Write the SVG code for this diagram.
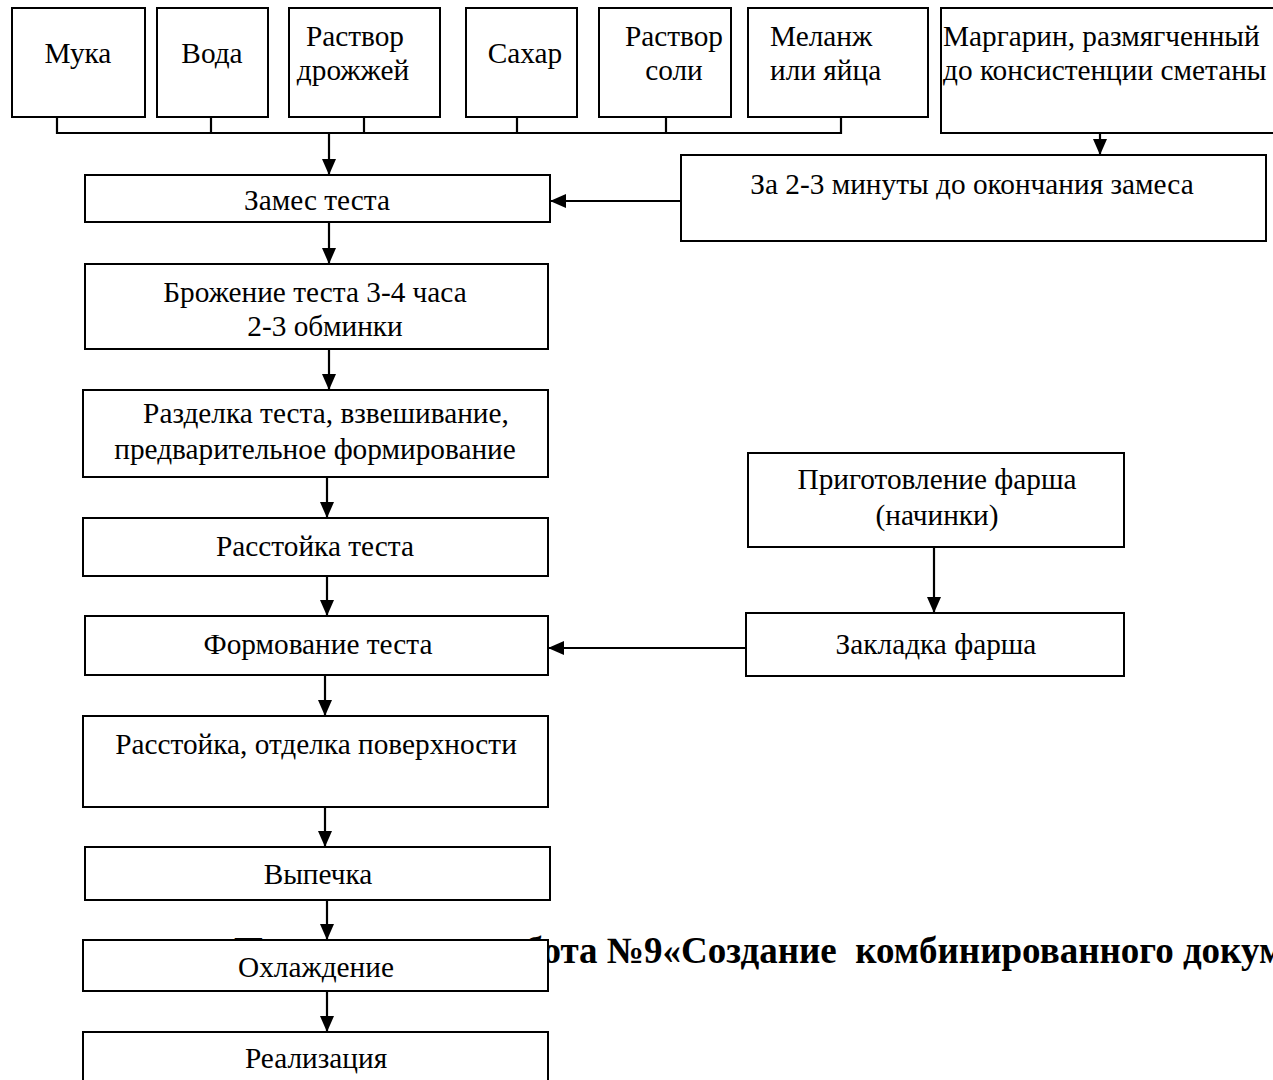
<svg xmlns="http://www.w3.org/2000/svg" width="1273" height="1080" viewBox="0 0 1273 1080">
<style>
.box{fill:#fff;stroke:#000;stroke-width:2}
.t{font-family:"Liberation Serif","Times New Roman",serif;font-size:29.3px;fill:#000}
.m{text-anchor:middle}
.ln{fill:none;stroke:#000;stroke-width:2.2}
.ttl{font-family:"Liberation Serif","Times New Roman",serif;font-size:37px;font-weight:bold;fill:#000}
</style>
<defs>
<marker id="ah" markerWidth="16" markerHeight="14" refX="16" refY="7" orient="auto" markerUnits="userSpaceOnUse">
<path d="M0,0 L16,7 L0,14 Z" fill="#000"/>
</marker>
</defs>
<rect width="1273" height="1080" fill="#fff"/>
<text id="title" class="ttl" x="234" y="963" xml:space="preserve">Практическая работа №9«Создание  комбинированного документа»</text>
<g id="connectors">
<path class="ln" d="M57,117 V133 H841 V117 M211,117 V133 M364,117 V133 M517,117 V133 M666,117 V133"/>
<line class="ln" x1="329" y1="133" x2="329" y2="175" marker-end="url(#ah)"/>
<line class="ln" x1="1100" y1="133" x2="1100" y2="155" marker-end="url(#ah)"/>
<line class="ln" x1="681" y1="201" x2="550" y2="201" marker-end="url(#ah)"/>
<line class="ln" x1="329" y1="222" x2="329" y2="264" marker-end="url(#ah)"/>
<line class="ln" x1="329" y1="349" x2="329" y2="390" marker-end="url(#ah)"/>
<line class="ln" x1="327" y1="477" x2="327" y2="518" marker-end="url(#ah)"/>
<line class="ln" x1="327" y1="576" x2="327" y2="616" marker-end="url(#ah)"/>
<line class="ln" x1="934" y1="547" x2="934" y2="613" marker-end="url(#ah)"/>
<line class="ln" x1="746" y1="648" x2="548" y2="648" marker-end="url(#ah)"/>
<line class="ln" x1="325" y1="675" x2="325" y2="716" marker-end="url(#ah)"/>
<line class="ln" x1="325" y1="807" x2="325" y2="847" marker-end="url(#ah)"/>
<line class="ln" x1="327" y1="900" x2="327" y2="940" marker-end="url(#ah)"/>
<line class="ln" x1="327" y1="991" x2="327" y2="1032" marker-end="url(#ah)"/>
</g>
<g id="muka"><rect class="box" x="12" y="8" width="133" height="109"/><text class="t m" x="78" y="63">Мука</text></g>
<g id="voda"><rect class="box" x="157" y="8" width="111" height="109"/><text class="t m" x="212" y="63">Вода</text></g>
<g id="drozhzhi"><rect class="box" x="289" y="8" width="151" height="109"/><text class="t m" x="355" y="46">Раствор</text><text class="t m" x="353" y="80">дрожжей</text></g>
<g id="sahar"><rect class="box" x="466" y="8" width="111" height="109"/><text class="t m" x="525" y="63">Сахар</text></g>
<g id="sol"><rect class="box" x="599" y="8" width="132" height="109"/><text class="t m" x="674" y="46">Раствор</text><text class="t m" x="674" y="80">соли</text></g>
<g id="melanzh"><rect class="box" x="748" y="8" width="180" height="109"/><text class="t" x="770" y="46">Меланж</text><text class="t" x="770" y="80">или яйца</text></g>
<g id="margarin"><rect class="box" x="941" y="8" width="340" height="125"/><text class="t" x="943" y="46">Маргарин, размягченный</text><text class="t" x="943" y="80">до консистенции сметаны</text></g>
<g id="zames"><rect class="box" x="85" y="175" width="465" height="47"/><text class="t m" x="317" y="210">Замес теста</text></g>
<g id="za23"><rect class="box" x="681" y="155" width="585" height="86"/><text class="t m" x="972" y="194">За 2-3 минуты до окончания замеса</text></g>
<g id="brozhenie"><rect class="box" x="85" y="264" width="463" height="85"/><text class="t m" x="315" y="302">Брожение теста 3-4 часа</text><text class="t m" x="325" y="336">2-3 обминки</text></g>
<g id="razdelka"><rect class="box" x="83" y="390" width="465" height="87"/><text class="t m" x="326" y="423">Разделка теста, взвешивание,</text><text class="t m" x="315" y="459">предварительное формирование</text></g>
<g id="rasstoyka1"><rect class="box" x="83" y="518" width="465" height="58"/><text class="t m" x="315" y="556">Расстойка теста</text></g>
<g id="formovanie"><rect class="box" x="85" y="616" width="463" height="59"/><text class="t m" x="318" y="654">Формование теста</text></g>
<g id="prigotovlenie"><rect class="box" x="748" y="453" width="376" height="94"/><text class="t m" x="937" y="489">Приготовление фарша</text><text class="t m" x="937" y="525">(начинки)</text></g>
<g id="zakladka"><rect class="box" x="746" y="613" width="378" height="63"/><text class="t m" x="936" y="654">Закладка фарша</text></g>
<g id="rasstoyka2"><rect class="box" x="83" y="716" width="465" height="91"/><text class="t m" x="316" y="754">Расстойка, отделка поверхности</text></g>
<g id="vypechka"><rect class="box" x="85" y="847" width="465" height="53"/><text class="t m" x="318" y="884">Выпечка</text></g>
<g id="ohlazhdenie"><rect class="box" x="83" y="940" width="465" height="51"/><text class="t m" x="316" y="977">Охлаждение</text></g>
<g id="realizaciya"><rect class="box" x="83" y="1032" width="465" height="60"/><text class="t m" x="316" y="1068">Реализация</text></g>
</svg>
